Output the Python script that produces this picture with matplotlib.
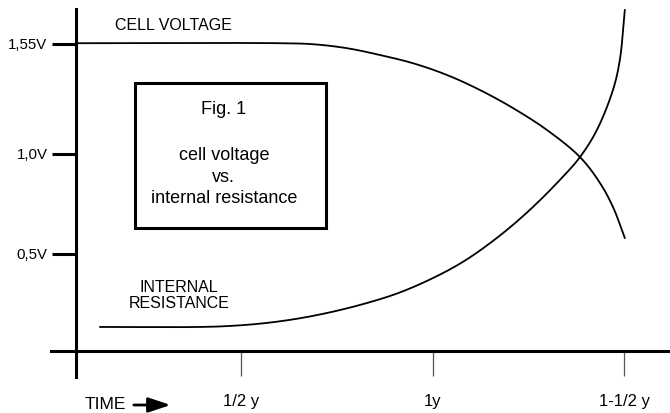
import matplotlib.pyplot as plt
import numpy as np
from matplotlib.patches import Rectangle

plt.rcParams['font.family'] = ['Liberation Sans', 'DejaVu Sans']

# time in years, level in volts
volt_t = [0.068, 0.601, 0.687, 0.776, 0.862, 0.948, 1.037, 1.123, 1.209, 1.298, 1.384, 1.436, 1.470, 1.501]
volt_v = [1.552, 1.552, 1.547, 1.527, 1.493, 1.452, 1.393, 1.318, 1.228, 1.118, 0.983, 0.854, 0.734, 0.579]

res_t = [0.131, 0.392, 0.470, 0.556, 0.645, 0.731, 0.817, 0.906, 0.992, 1.078, 1.167, 1.253, 1.339,
         1.384, 1.428, 1.470, 1.488, 1.501]
res_v = [0.134, 0.134, 0.139, 0.152, 0.175, 0.207, 0.248, 0.301, 0.371, 0.459, 0.579, 0.719, 0.884,
         0.983, 1.118, 1.318, 1.468, 1.718]

y_ticks = [1.55, 1.0, 0.5]
y_labels = ['1,55V', '1,0V', '0,5V']
x_ticks = [0.5, 1.0, 1.5]
x_labels = ['1/2 y', '1y', '1-1/2 y']


def smooth(xs, ys, n=40):
    # centripetal catmull-rom, parametrised in (roughly) pixel space
    p = np.column_stack([np.array(xs) * 383, np.array(ys) * 200])
    p = np.vstack([2 * p[0] - p[1], p, 2 * p[-1] - p[-2]])
    out = []
    for i in range(1, len(p) - 2):
        p0, p1, p2, p3 = p[i - 1], p[i], p[i + 1], p[i + 2]
        t0 = 0.0
        t1 = t0 + np.linalg.norm(p1 - p0) ** 0.5
        t2 = t1 + np.linalg.norm(p2 - p1) ** 0.5
        t3 = t2 + np.linalg.norm(p3 - p2) ** 0.5
        t = np.linspace(t1, t2, n)[:, None]
        a1 = (t1 - t) / (t1 - t0) * p0 + (t - t0) / (t1 - t0) * p1
        a2 = (t2 - t) / (t2 - t1) * p1 + (t - t1) / (t2 - t1) * p2
        a3 = (t3 - t) / (t3 - t2) * p2 + (t - t2) / (t3 - t2) * p3
        b1 = (t2 - t) / (t2 - t0) * a1 + (t - t0) / (t2 - t0) * a2
        b2 = (t3 - t) / (t3 - t1) * a2 + (t - t1) / (t3 - t1) * a3
        out.append((t2 - t) / (t2 - t1) * b1 + (t - t1) / (t2 - t1) * b2)
    out = np.vstack(out)
    return out[:, 0] / 383, out[:, 1] / 200


fig = plt.figure(figsize=(6.7, 4.13), dpi=100)
ax = fig.add_axes([0, 0, 1, 1])
ax.set_xlim(-0.1305, 1.619)
ax.set_ylim(-0.296, 1.768)

x, y = smooth(volt_t, volt_v)
ax.plot(x, y, color='black', lw=1.3)
x, y = smooth(res_t, res_v)
ax.plot(x, y, color='black', lw=1.3)

for s in ['top', 'right']:
    ax.spines[s].set_visible(False)
ax.spines['left'].set_position(('data', 0.068))
ax.spines['left'].set_bounds(-0.116, 1.723)
ax.spines['left'].set_linewidth(2.2)
ax.spines['bottom'].set_position(('data', 0.014))
ax.spines['bottom'].set_bounds(0.0026, 1.619)
ax.spines['bottom'].set_linewidth(2.2)

ax.set_yticks(y_ticks)
ax.set_yticklabels(y_labels)
ax.set_xticks(x_ticks)
ax.set_xticklabels(x_labels)
ax.tick_params(axis='y', direction='out', length=17.5, width=2.2, pad=3, labelsize=10.8)
ax.tick_params(axis='x', direction='out', length=18, width=0.9, color='#555555', pad=13, labelsize=12)

ax.text(0.323, 1.64, 'CELL VOLTAGE', ha='center', va='center', fontsize=11.5)
ax.text(0.337, 0.290, 'INTERNAL\nRESISTANCE', ha='center', va='center', fontsize=11.5, linespacing=1.05)
ax.text(0.091, -0.256, 'TIME', ha='left', va='center', fontsize=12.5)
ax.annotate('', xy=(0.315, -0.256), xytext=(0.219, -0.256),
            arrowprops=dict(arrowstyle='-|>,head_length=0.9,head_width=0.3', color='black',
                            lw=2.0, mutation_scale=15, shrinkA=0, shrinkB=0))

ax.add_patch(Rectangle((0.222, 0.629), 0.4987, 0.725, fill=False, lw=2.2, ec='black'))
ax.text(0.454, 1.222, 'Fig. 1', ha='center', va='center', fontsize=13)
ax.text(0.454, 0.993, 'cell voltage', ha='center', va='center', fontsize=13)
ax.text(0.454, 0.883, 'vs.', ha='center', va='center', fontsize=13)
ax.text(0.454, 0.778, 'internal resistance', ha='center', va='center', fontsize=13)

fig.savefig('out.png', dpi=100)
